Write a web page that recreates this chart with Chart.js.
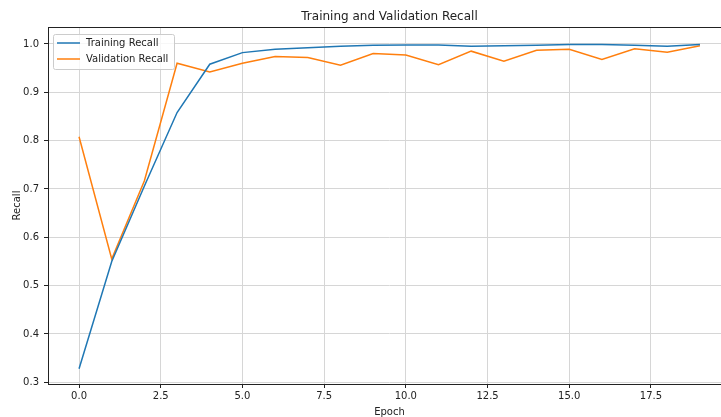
<!DOCTYPE html>
<html>
<head>
<meta charset="utf-8">
<script src="https://cdn.jsdelivr.net/npm/chart.js@4/dist/chart.umd.min.js"></script>
<style>
  html, body { margin: 0; padding: 0; background: #fff; overflow: hidden; width: 721px; height: 417px; }
  #wrap { position: absolute; left: 0; top: 0; width: 735px; height: 417px; }
</style>
</head>
<body>
<div id="wrap"><canvas id="c" width="735" height="417"></canvas></div>
<script>
const epochs = [0, 1, 2, 3, 4, 5, 6, 7, 8, 9, 10, 11, 12, 13, 14, 15, 16, 17, 18, 19];
const trainingRecall = [0.328, 0.550, 0.706, 0.858, 0.958, 0.982, 0.989, 0.992, 0.995, 0.997, 0.998, 0.998, 0.995, 0.996, 0.997, 0.999, 0.999, 0.997, 0.995, 0.999];
const validationRecall = [0.808, 0.555, 0.717, 0.960, 0.942, 0.960, 0.974, 0.972, 0.956, 0.980, 0.977, 0.957, 0.985, 0.964, 0.987, 0.989, 0.968, 0.990, 0.983, 0.996];
const xTicks = [0, 2.5, 5, 7.5, 10, 12.5, 15, 17.5];
const yTicks = [0.3, 0.4, 0.5, 0.6, 0.7, 0.8, 0.9, 1.0];
const seriesNames = ['Training Recall', 'Validation Recall'];
const chartTitle = 'Training and Validation Recall';

const FONT = 'DejaVu Sans';
const BLUE = '#1f77b4', ORANGE = '#ff7f0e';

const frame = {
  id: 'frame',
  afterDatasetsDraw(chart) {
    const {ctx, chartArea: a} = chart;
    ctx.save();
    ctx.strokeStyle = '#222';
    ctx.lineWidth = 1;
    ctx.strokeRect(a.left + 0.5, a.top + 0.5, a.right - a.left, a.bottom - a.top);
    // legend
    const lx = 53.5, ly = 34.5, lw = 121, lh = 35;
    ctx.fillStyle = 'rgba(255,255,255,0.8)';
    ctx.strokeStyle = '#cccccc';
    ctx.beginPath();
    if (ctx.roundRect) ctx.roundRect(lx, ly, lw, lh, 2); else ctx.rect(lx, ly, lw, lh);
    ctx.fill();
    ctx.stroke();
    const colors = [BLUE, ORANGE];
    const ys = [43, 59];
    ctx.font = '10px "' + FONT + '"';
    ctx.textBaseline = 'middle';
    ctx.textAlign = 'left';
    for (let i = 0; i < 2; i++) {
      ctx.strokeStyle = colors[i];
      ctx.lineWidth = 1.5;
      ctx.beginPath();
      ctx.moveTo(57, ys[i]);
      ctx.lineTo(80, ys[i]);
      ctx.stroke();
      ctx.fillStyle = '#222';
      ctx.fillText(seriesNames[i], 86, ys[i]);
    }
    ctx.restore();
  }
};

new Chart(document.getElementById('c'), {
  type: 'line',
  data: {
    datasets: [
      { label: seriesNames[0], data: epochs.map((e, i) => ({x: e, y: trainingRecall[i]})), borderColor: BLUE, borderWidth: 1.5, pointRadius: 0, tension: 0, fill: false },
      { label: seriesNames[1], data: epochs.map((e, i) => ({x: e, y: validationRecall[i]})), borderColor: ORANGE, borderWidth: 1.5, pointRadius: 0, tension: 0, fill: false }
    ]
  },
  options: {
    responsive: false,
    animation: false,
    events: [],
    layout: { padding: { top: 27, right: 4, left: 0, bottom: 0 } },
    plugins: {
      legend: { display: false },
      tooltip: { enabled: false },
      title: { display: false }
    },
    scales: {
      x: {
        type: 'linear',
        min: -0.95, max: 19.95,
        afterBuildTicks: s => { s.ticks = xTicks.map(v => ({value: v})); },
        afterFit: s => { s.height = 33; },
        ticks: { font: { family: FONT, size: 10 }, color: '#222', padding: 2, maxRotation: 0, autoSkip: false,
          callback: v => Number(v).toFixed(1) },
        grid: { color: '#d6d6d6', lineWidth: 1, tickLength: 4, tickColor: '#222', drawTicks: true },
        border: { display: false },
        title: { display: true, text: 'Epoch', font: { family: FONT, size: 10 }, color: '#222', padding: { top: 0, bottom: -1 } }
      },
      y: {
        type: 'linear',
        min: 0.2965, max: 1.035,
        afterBuildTicks: s => { s.ticks = yTicks.map(v => ({value: v})); },
        afterFit: s => { s.width = 48; },
        ticks: { font: { family: FONT, size: 10 }, color: '#222', padding: 5, autoSkip: false,
          callback: v => Number(v).toFixed(1) },
        grid: { color: '#d6d6d6', lineWidth: 1, tickLength: 4, tickColor: '#222', drawTicks: true },
        border: { display: false },
        title: { display: true, text: 'Recall', font: { family: FONT, size: 10 }, color: '#222', padding: { top: 11, bottom: 0 } }
      }
    }
  },
  plugins: [frame, {
    id: 'ttl',
    afterDraw(chart) {
      const {ctx, chartArea: a} = chart;
      ctx.save();
      ctx.font = '12px "' + FONT + '"';
      ctx.fillStyle = '#222';
      ctx.textAlign = 'center';
      ctx.textBaseline = 'middle';
      ctx.fillText(chartTitle, (a.left + a.right) / 2, 17);
      ctx.restore();
    }
  }]
});
</script>
</body>
</html>
